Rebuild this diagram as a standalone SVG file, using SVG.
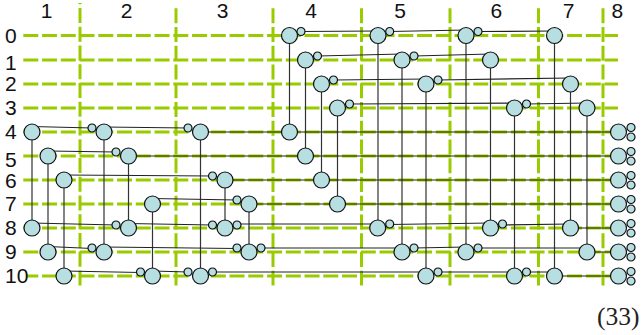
<svg xmlns="http://www.w3.org/2000/svg" width="641" height="335" viewBox="0 0 641 335">
<style>
.g{stroke:#99cc00;stroke-width:3;fill:none;stroke-dasharray:15 3.75}
.v{stroke:#333;stroke-width:1.2;fill:none}
.h{stroke:#222;stroke-width:1.2;fill:none}
.b,.s{fill:#b7dfe2;stroke:#111;stroke-width:1.2}
text{font-family:"Liberation Sans",Arial,sans-serif;font-size:21px;fill:#111}
.n{text-anchor:middle}
.eq{font-family:"Liberation Serif",serif;font-size:25.500px;fill:#222}
</style>
<defs>
<circle id="B" class="b" r="8"/>
<circle id="S" class="s" r="4"/>
</defs>
<g id="grid">
<path class="g" d="M23.300 35.500H618M23.300 60H618M23.300 84H618M23.300 108H618M23.300 132H618M23.300 156H618M23.300 180H618M23.300 204H618M23.300 228H618M23.300 252H618"/>
<path class="g" stroke-dashoffset="3.700" d="M27 276H618"/>
<path class="g" stroke-dashoffset="13.700" d="M80 3V285.500"/>
<path class="g" d="M176 8.300V285.500M273 8.300V285.500M361.500 8.300V285.500M450 8.300V285.500M538.500 8.300V285.500M603 8.300V285.500"/>
</g>
<g id="labels">
<text class="n" x="46.700" y="17.500">1</text><text class="n" x="126.700" y="17.500">2</text><text class="n" x="222.700" y="17.500">3</text><text class="n" x="311" y="17.500">4</text><text class="n" x="400" y="17.500">5</text><text class="n" x="496.300" y="17.500">6</text><text class="n" x="568.700" y="17.500">7</text><text class="n" x="617.300" y="17.500">8</text>
<text x="5" y="43">0</text><text x="5" y="70">1</text><text x="5" y="91">2</text><text x="5" y="115">3</text><text x="5" y="138.500">4</text><text x="5" y="166.500">5</text><text x="5" y="187.500">6</text><text x="5" y="211">7</text><text x="5" y="234.500">8</text><text x="5" y="259">9</text><text x="5" y="283">10</text>
</g>
<g id="connectors">
<path class="v" d="M289.500 36V132M305.500 60V156M321.500 84V180M337.500 108V204M378 36V228M402 60V252M426 84V276M466 36V252M490.500 60V228M514.500 108V276M554.500 36V276M570.500 84V228M587 108V252M32 132V228M48 156V252M64 180V276M104 132V252M128.500 156V228M152.500 204V276M200.500 132V276M225 180V228M249 204V252"/>
<path class="h" d="M301 31.500L378 31M389.700 31.500L466 30M478 31.500L554.500 31M317.500 56L402 54M414 56L490.500 54M333.500 80L426 79M438 80L570.500 78M349.500 104L514.500 103M526.500 104L587 103M32 126.500L92 128M104 127L188 128M200.500 132H618.500M48 151L116 152M128.500 156H618.500M64 175L212.500 176M225 180H618.500M152.500 198.500L237 200M249 204H618.500M32 223L116 225M128.500 223.500L212.500 225M237 224L377.700 224M389.700 224.500L490.500 223M502.500 225L570.500 224M570.500 228H618.500M48 246.500L92 248.500M104 247L237 248.500M261 248L402 248M414 248L466 247M478 248L587 248M587 252H618.500M64 271L140.500 272.500M152.500 271L188 272M212.500 272L426 272M438 272L514.500 272M526.500 272L554.500 272M554.500 276H618.500"/>
</g>
<g id="row0"><use href="#B" x="289.500" y="35.500"/><use href="#S" x="301" y="31.500"/><use href="#B" x="378" y="35.500"/><use href="#S" x="389.700" y="31.500"/><use href="#B" x="466" y="35.500"/><use href="#S" x="478" y="31.500"/><use href="#B" x="554.500" y="35.500"/></g>
<g id="row1"><use href="#B" x="305.500" y="60"/><use href="#S" x="317.500" y="56"/><use href="#B" x="402" y="60"/><use href="#S" x="414" y="56"/><use href="#B" x="490.500" y="60"/></g>
<g id="row2"><use href="#B" x="321.500" y="84"/><use href="#S" x="333.500" y="80"/><use href="#B" x="426" y="84"/><use href="#S" x="438" y="80"/><use href="#B" x="570.500" y="84"/></g>
<g id="row3"><use href="#B" x="337.500" y="108"/><use href="#S" x="349.500" y="104"/><use href="#B" x="514.500" y="108"/><use href="#S" x="526.500" y="104"/><use href="#B" x="587" y="108"/></g>
<g id="row4"><use href="#B" x="32" y="132"/><use href="#S" x="92" y="128"/><use href="#B" x="104" y="132"/><use href="#S" x="188" y="128"/><use href="#B" x="200.500" y="132"/><use href="#B" x="289.500" y="132"/></g>
<g id="row5"><use href="#B" x="48" y="156"/><use href="#S" x="116" y="152"/><use href="#B" x="128.500" y="156"/><use href="#B" x="305.500" y="156"/></g>
<g id="row6"><use href="#B" x="64" y="180"/><use href="#S" x="212.500" y="176"/><use href="#B" x="225" y="180"/><use href="#B" x="321.500" y="180"/></g>
<g id="row7"><use href="#B" x="152.500" y="204"/><use href="#S" x="237" y="200"/><use href="#B" x="249" y="204"/><use href="#B" x="337.500" y="204"/></g>
<g id="row8"><use href="#B" x="32" y="228"/><use href="#S" x="116" y="225"/><use href="#B" x="128.500" y="228"/><use href="#S" x="212.500" y="225"/><use href="#B" x="225" y="228"/><use href="#S" x="237" y="225"/><use href="#B" x="377.700" y="228"/><use href="#S" x="389.700" y="224"/><use href="#B" x="490.500" y="228"/><use href="#S" x="502.500" y="224"/><use href="#B" x="570.500" y="228"/></g>
<g id="row9"><use href="#B" x="48" y="252"/><use href="#S" x="92" y="248"/><use href="#B" x="104" y="252"/><use href="#S" x="237" y="248"/><use href="#B" x="249" y="252"/><use href="#S" x="261" y="248"/><use href="#B" x="402" y="252"/><use href="#S" x="414" y="248"/><use href="#B" x="466" y="252"/><use href="#S" x="478" y="248"/><use href="#B" x="587" y="252"/></g>
<g id="row10"><use href="#B" x="64" y="276"/><use href="#S" x="140.500" y="272"/><use href="#B" x="152.500" y="276"/><use href="#S" x="188" y="272"/><use href="#B" x="200.500" y="276"/><use href="#S" x="212.500" y="272"/><use href="#B" x="426" y="276"/><use href="#S" x="438" y="272"/><use href="#B" x="514.500" y="276"/><use href="#S" x="526.500" y="272"/><use href="#B" x="554.500" y="276"/></g>
<g id="col8"><use href="#B" x="618.500" y="132"/><use href="#S" x="631" y="127.500"/><use href="#S" x="631" y="137"/><use href="#B" x="618.500" y="156"/><use href="#S" x="631" y="151.500"/><use href="#S" x="631" y="161"/><use href="#B" x="618.500" y="180"/><use href="#S" x="631" y="175.500"/><use href="#S" x="631" y="185"/><use href="#B" x="618.500" y="204"/><use href="#S" x="631" y="199.500"/><use href="#S" x="631" y="209"/><use href="#B" x="618.500" y="228"/><use href="#S" x="631" y="223.500"/><use href="#S" x="631" y="233"/><use href="#B" x="618.500" y="252"/><use href="#S" x="631" y="247.500"/><use href="#S" x="631" y="257"/><use href="#B" x="618.500" y="276"/><use href="#S" x="631" y="271.500"/><use href="#S" x="631" y="281"/></g>
<text class="eq" x="597" y="325">(33)</text>
</svg>
